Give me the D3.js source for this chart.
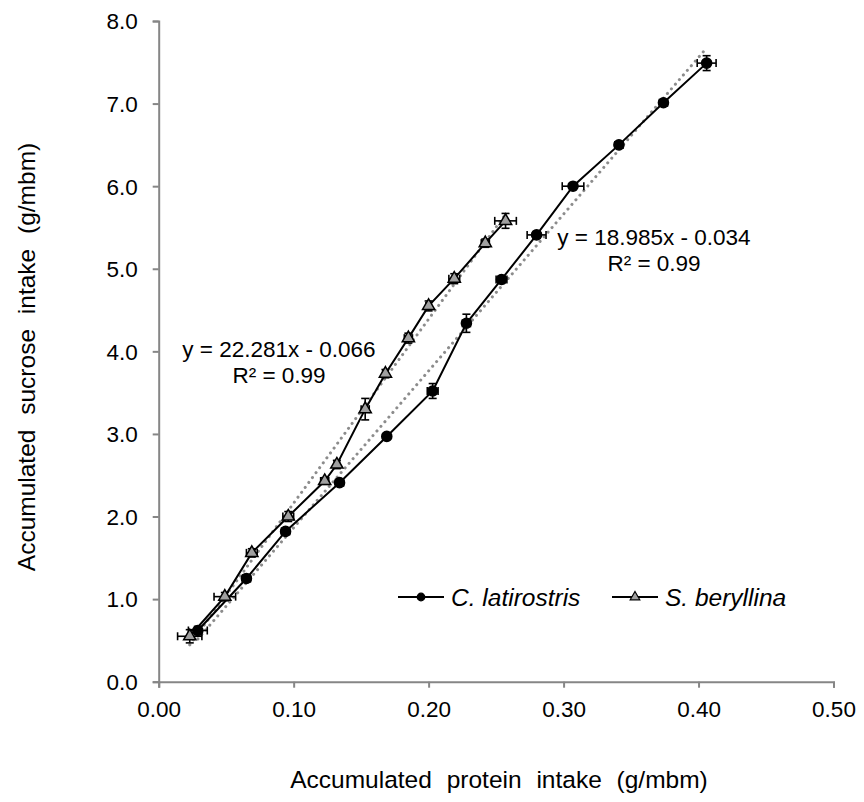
<!DOCTYPE html>
<html>
<head>
<meta charset="utf-8">
<script src="https://cdn.jsdelivr.net/npm/d3@7"></script>
<style>
  html, body { margin: 0; padding: 0; background: #fff; }
  svg { display: block; font-family: Arial, "Liberation Sans", sans-serif; }
</style>
</head>
<body>
<svg id="chart" width="864" height="802"></svg>
<script>
// Accumulated protein vs sucrose intake for two hummingbird species
const seriesNames = ["C. latirostris", "S. beryllina"];

const latProtein = [0.029, 0.065, 0.094, 0.134, 0.169, 0.203, 0.228, 0.254, 0.280, 0.307, 0.341, 0.374, 0.406];
const latSucrose = [0.62, 1.25, 1.82, 2.41, 2.97, 3.52, 4.34, 4.87, 5.41, 6.00, 6.50, 7.01, 7.49];
const latProteinErr = [0.007, 0.003, 0.003, 0.003, 0.002, 0.004, 0.003, 0.004, 0.007, 0.008, 0.003, 0.003, 0.007];
const latSucroseErr = [0.05, 0.04, 0.03, 0.03, 0.03, 0.09, 0.11, 0.04, 0.04, 0.04, 0.03, 0.03, 0.09];

const berProtein = [0.023, 0.049, 0.069, 0.096, 0.123, 0.132, 0.153, 0.168, 0.185, 0.200, 0.219, 0.242, 0.257];
const berSucrose = [0.55, 1.03, 1.56, 2.00, 2.43, 2.63, 3.30, 3.73, 4.16, 4.55, 4.88, 5.31, 5.58];
const berProteinErr = [0.009, 0.008, 0.004, 0.004, 0.003, 0.002, 0.003, 0.002, 0.003, 0.002, 0.004, 0.003, 0.008];
const berSucroseErr = [0.08, 0.05, 0.05, 0.06, 0.04, 0.05, 0.13, 0.05, 0.06, 0.06, 0.06, 0.05, 0.09];

// Linear fits: [slope, intercept, R²]
const latFit = [18.985, -0.034, 0.99];
const berFit = [22.281, -0.066, 0.99];

const xTicks = [0.00, 0.10, 0.20, 0.30, 0.40, 0.50];
const yTicks = [0, 1, 2, 3, 4, 5, 6, 7, 8];

const xTitle = "Accumulated protein intake (g/mbm)";
const yTitle = "Accumulated sucrose intake (g/mbm)";

const svg = d3.select("#chart");
const axisColor = "#868686";

const x = d3.scaleLinear().domain([0, 0.5]).range([158.7, 833.5]);
const y = d3.scaleLinear().domain([0, 8]).range([681.7, 21]);

function rows(px, py, ex, ey) {
  return px.map((v, i) => ({ x: v, y: py[i], ex: ex[i], ey: ey[i] }));
}
const latData = rows(latProtein, latSucrose, latProteinErr, latSucroseErr);
const berData = rows(berProtein, berSucrose, berProteinErr, berSucroseErr);

// Axes
const xAxis = svg.append("g")
  .attr("transform", `translate(0,${y(0)})`)
  .call(d3.axisBottom(x).tickValues(xTicks).tickFormat(d3.format(".2f")).tickSize(6).tickSizeOuter(6));
const yAxis = svg.append("g")
  .attr("transform", `translate(${x(0)},0)`)
  .call(d3.axisLeft(y).tickValues(yTicks).tickFormat(d3.format(".1f")).tickSize(6).tickSizeOuter(6));

[xAxis, yAxis].forEach(g => {
  g.select(".domain").attr("stroke", axisColor).attr("stroke-width", 2);
  g.selectAll(".tick line").attr("stroke", axisColor).attr("stroke-width", 2);
  g.selectAll(".tick text").attr("fill", "#000").attr("font-size", 22.5).attr("font-family", "Arial, 'Liberation Sans', sans-serif");
});
xAxis.selectAll(".tick text").attr("dy", 0).attr("y", 35);
yAxis.selectAll(".tick text").attr("x", -21).attr("dy", "0.35em");

// Axis titles
svg.append("text")
  .attr("x", 499).attr("y", 788)
  .attr("text-anchor", "middle")
  .attr("font-size", 24.5)
  .attr("word-spacing", 8)
  .text(xTitle);
svg.append("text")
  .attr("transform", `translate(35,357) rotate(-90)`)
  .attr("text-anchor", "middle")
  .attr("font-size", 24.5)
  .attr("word-spacing", 8)
  .text(yTitle);

// Trend lines (dotted), spanning each series' protein range
function trend(data, fit) {
  const ext = d3.extent(data, d => d.x);
  const pts = ext.map(v => [v, fit[0] * v + fit[1]]);
  svg.append("line")
    .attr("x1", x(pts[0][0])).attr("y1", y(pts[0][1]))
    .attr("x2", x(pts[1][0])).attr("y2", y(pts[1][1]))
    .attr("stroke", "#8c8c8c")
    .attr("stroke-width", 3)
    .attr("stroke-linecap", "round")
    .attr("stroke-dasharray", "0.1,6");
}
trend(latData, latFit);
trend(berData, berFit);

const line = d3.line().x(d => x(d.x)).y(d => y(d.y));

function drawSeries(data, marker) {
  svg.append("path")
    .datum(data)
    .attr("d", line)
    .attr("fill", "none")
    .attr("stroke", "#000")
    .attr("stroke-width", 2);

  const eb = svg.append("g").attr("stroke", "#000").attr("stroke-width", 1.6);
  const cap = 4;
  data.forEach(d => {
    const cx = x(d.x), cy = y(d.y);
    const x0 = x(d.x - d.ex), x1 = x(d.x + d.ex);
    const y0 = y(d.y - d.ey), y1 = y(d.y + d.ey);
    eb.append("line").attr("x1", x0).attr("x2", x1).attr("y1", cy).attr("y2", cy);
    eb.append("line").attr("x1", x0).attr("x2", x0).attr("y1", cy - cap).attr("y2", cy + cap);
    eb.append("line").attr("x1", x1).attr("x2", x1).attr("y1", cy - cap).attr("y2", cy + cap);
    eb.append("line").attr("x1", cx).attr("x2", cx).attr("y1", y0).attr("y2", y1);
    eb.append("line").attr("x1", cx - cap).attr("x2", cx + cap).attr("y1", y0).attr("y2", y0);
    eb.append("line").attr("x1", cx - cap).attr("x2", cx + cap).attr("y1", y1).attr("y2", y1);
  });

  svg.append("g").selectAll("path")
    .data(data)
    .join("path")
    .attr("transform", d => `translate(${x(d.x)},${y(d.y)})`)
    .attr("d", marker.path)
    .attr("fill", marker.fill)
    .attr("stroke", "#000")
    .attr("stroke-width", 1.5);
}

const circleMarker = { path: d3.symbol(d3.symbolCircle, 80)(), fill: "#000" };
const triMarker = { path: d3.symbol(d3.symbolTriangle, 65)(), fill: "#a0a0a0" };

drawSeries(latData, circleMarker);
drawSeries(berData, triMarker);

// Fit equations
function equation(fit, cx, by) {
  const sign = fit[1] < 0 ? "-" : "+";
  svg.append("text")
    .attr("x", cx).attr("y", by)
    .attr("text-anchor", "middle").attr("font-size", 22.5)
    .text(`y = ${fit[0].toFixed(3)}x ${sign} ${Math.abs(fit[1]).toFixed(3)}`);
  svg.append("text")
    .attr("x", cx).attr("y", by + 26)
    .attr("text-anchor", "middle").attr("font-size", 22.5)
    .text(`R² = ${fit[2].toFixed(2)}`);
}
equation(berFit, 279, 357);
equation(latFit, 654, 245);

// Legend
const legend = svg.append("g").attr("transform", "translate(0,597)");
const legendItems = [
  { name: seriesNames[0], x0: 398, marker: d3.symbol(d3.symbolCircle, 45)(), fill: "#000" },
  { name: seriesNames[1], x0: 612, marker: d3.symbol(d3.symbolTriangle, 40)(), fill: "#a0a0a0" }
];
legendItems.forEach(it => {
  legend.append("line")
    .attr("x1", it.x0).attr("x2", it.x0 + 46)
    .attr("y1", 0).attr("y2", 0)
    .attr("stroke", "#000").attr("stroke-width", 2);
  legend.append("path")
    .attr("transform", `translate(${it.x0 + 23},0)`)
    .attr("d", it.marker)
    .attr("fill", it.fill).attr("stroke", "#000").attr("stroke-width", 1.2);
  legend.append("text")
    .attr("x", it.x0 + 53).attr("y", 9)
    .attr("font-size", 24.5)
    .attr("font-style", "italic")
    .text(it.name);
});
</script>
</body>
</html>
